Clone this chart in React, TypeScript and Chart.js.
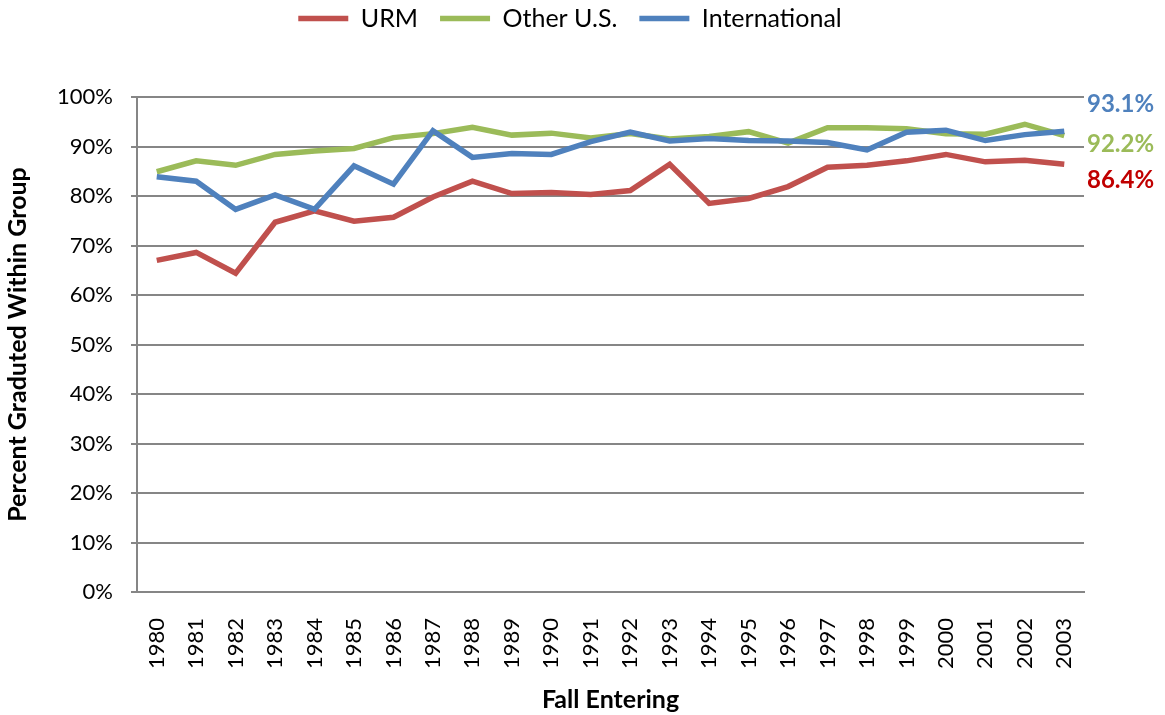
import React, { useEffect, useRef } from "react";
import { Chart, registerables } from "chart.js";

Chart.register(...registerables);

const years = [
  "1980", "1981", "1982", "1983", "1984", "1985", "1986", "1987", "1988", "1989", "1990", "1991",
  "1992", "1993", "1994", "1995", "1996", "1997", "1998", "1999", "2000", "2001", "2002", "2003",
];

const urm = [
  67.0, 68.6, 64.4, 74.7, 77.0, 74.9, 75.7, 79.8, 83.0, 80.5, 80.7, 80.3,
  81.1, 86.4, 78.5, 79.5, 81.9, 85.8, 86.2, 87.1, 88.4, 86.9, 87.2, 86.4,
];

const otherUS = [
  84.9, 87.1, 86.2, 88.4, 89.1, 89.6, 91.8, 92.6, 93.9, 92.3, 92.7, 91.7,
  92.6, 91.5, 92.0, 93.0, 90.7, 93.8, 93.8, 93.6, 92.6, 92.5, 94.5, 92.2,
];

const international = [
  83.9, 83.0, 77.3, 80.2, 77.3, 86.1, 82.4, 93.2, 87.8, 88.6, 88.4, 91.0,
  92.9, 91.1, 91.6, 91.2, 91.1, 90.8, 89.3, 92.9, 93.3, 91.2, 92.4, 93.1,
];

const yTicks = [0, 10, 20, 30, 40, 50, 60, 70, 80, 90, 100];

const seriesNames = ["URM", "Other U.S.", "International"];
const lineColors = ["#C0504D", "#9BBB59", "#4F81BD"];
const endLabelColors = ["#C00000", "#9BBB59", "#4F81BD"];

const FONT = "Lato, 'Open Sans', sans-serif";

const endLabelsPlugin = {
  id: "endLabels",
  afterDatasetsDraw(chart: any) {
    const { ctx, chartArea, scales } = chart;
    const y = scales.y;
    // label anchor levels (in axis units) for URM, Other U.S., International
    const anchors = [83.2, 90.5, 98.6];
    ctx.save();
    ctx.font = `bold 24px ${FONT}`;
    ctx.textAlign = "left";
    ctx.textBaseline = "middle";
    chart.data.datasets.forEach((ds: any, i: number) => {
      const last = ds.data[ds.data.length - 1];
      ctx.fillStyle = endLabelColors[i];
      ctx.fillText(last.toFixed(1) + "%", chartArea.right + 3, y.getPixelForValue(anchors[i]));
    });
    ctx.restore();
  },
};

export default function App() {
  const ref = useRef<HTMLCanvasElement | null>(null);

  useEffect(() => {
    if (!ref.current) return;
    const datasetsData = [urm, otherUS, international];
    const chart = new Chart(ref.current, {
      type: "line",
      data: {
        labels: years,
        datasets: datasetsData.map((d, i) => ({
          label: seriesNames[i],
          data: d,
          borderColor: lineColors[i],
          backgroundColor: lineColors[i],
          borderWidth: 5.5,
          pointRadius: 0,
          pointHoverRadius: 0,
          tension: 0,
          fill: false,
          order: 3 - i,
          yAxisID: "y",
        })),
      },
      options: {
        responsive: false,
        animation: false,
        layout: { padding: { top: -16, left: 0, right: 25, bottom: 0 } },
        plugins: {
          tooltip: { enabled: false },
          legend: {
            position: "top",
            labels: {
              usePointStyle: true,
              pointStyle: "line",
              pointStyleWidth: 50,
              boxHeight: 25,
              padding: 22,
              color: "#000",
              font: { family: FONT, size: 25 },
              sort: (a: any, b: any) => a.datasetIndex - b.datasetIndex,
            },
          },
        },
        scales: {
          x: {
            type: "category",
            offset: true,
            grid: { display: false, drawTicks: false },
            border: { display: true, color: "#868686", width: 2 },
            ticks: {
              color: "#000",
              font: { family: FONT, size: 22 },
              minRotation: 90,
              maxRotation: 90,
              padding: 26,
              autoSkip: false,
            },
            title: {
              display: true,
              text: "Fall Entering",
              color: "#000",
              font: { family: FONT, size: 25, weight: "bold" },
              padding: { top: 0, bottom: 0 },
            },
            afterFit(scale: any) {
              scale.height = 123;
            },
          },
          y: {
            position: "left",
            min: 0,
            max: 100,
            afterBuildTicks(scale: any) {
              scale.ticks = yTicks.map((v) => ({ value: v }));
            },
            grid: { color: "#868686", lineWidth: 2, tickLength: 6, drawTicks: true },
            border: { display: true, color: "#868686", width: 2 },
            ticks: {
              color: "#000",
              font: { family: FONT, size: 22 },
              padding: 18,
              callback: (v: any) => v + "%",
            },
            title: {
              display: true,
              text: "Percent Graduted Within Group",
              color: "#000",
              font: { family: FONT, size: 25, weight: "bold" },
              padding: { top: 3, bottom: 0 },
            },
            afterFit(scale: any) {
              scale.width = 137;
            },
          },
          y2: {
            position: "right",
            display: true,
            grid: { display: false, drawTicks: false },
            border: { display: false },
            ticks: { display: false },
            afterFit(scale: any) {
              scale.width = 56;
            },
          },
        },
      },
      plugins: [
        endLabelsPlugin,
        {
          id: "legendHeight",
          beforeInit(c: any) {
            const lg = c.legend;
            if (lg) {
              const orig = lg.fit;
              lg.fit = function () {
                orig.call(this);
                this.height = 113;
              };
            }
          },
        },
      ],
    } as any);
    return () => chart.destroy();
  }, []);

  return (
    <div style={{ position: "fixed", left: 0, top: 0, width: 1165, height: 715, background: "#fff" }}>
      <canvas ref={ref} width={1165} height={715} />
    </div>
  );
}
